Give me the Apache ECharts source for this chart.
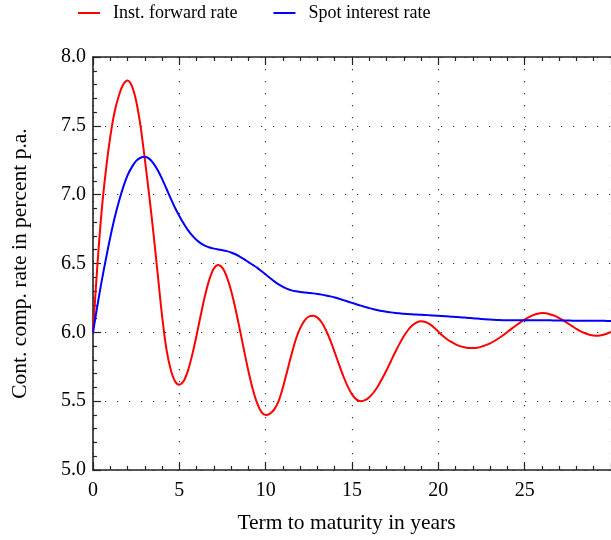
<!DOCTYPE html>
<html>
<head>
<meta charset="utf-8">
<script src="https://cdn.jsdelivr.net/npm/echarts@6/dist/echarts.min.js"></script>
<style>html,body{margin:0;padding:0;background:#fff}#c{width:611px;height:540px}</style>
</head>
<body>
<div id="c"></div>
<script>
const seriesNames = ['Inst. forward rate', 'Spot interest rate'];
const xTitle = 'Term to maturity in years';
const yTitle = 'Cont. comp. rate in percent p.a.';
const years = [0,0.25,0.5,0.75,1,1.25,1.5,1.75,2,2.25,2.5,2.75,3,3.25,3.5,3.75,4,4.25,4.5,4.75,
  5,5.25,5.5,5.75,6,6.25,6.5,6.75,7,7.25,7.5,7.75,8,8.25,8.5,8.75,9,9.25,9.5,9.75,
  10,10.25,10.5,10.75,11,11.25,11.5,11.75,12,12.25,12.5,12.75,13,13.25,13.5,13.75,14,14.25,14.5,14.75,
  15,15.25,15.5,15.75,16,16.25,16.5,16.75,17,17.25,17.5,17.75,18,18.25,18.5,18.75,19,19.25,19.5,19.75,
  20,20.25,20.5,20.75,21,21.25,21.5,21.75,22,22.25,22.5,22.75,23,23.25,23.5,23.75,24,24.25,24.5,24.75,
  25,25.25,25.5,25.75,26,26.25,26.5,26.75,27,27.25,27.5,27.75,28,28.25,28.5,28.75,29,29.25,29.5,29.75,30];
const forwardRate = [6.00,6.48,6.88,7.18,7.42,7.60,7.72,7.80,7.83,7.79,7.68,7.50,7.26,7.00,6.72,6.42,6.12,5.88,5.73,5.645,
  5.62,5.646,5.722,5.838,5.979,6.131,6.273,6.388,6.464,6.49,6.468,6.403,6.302,6.171,6.022,5.868,5.719,5.588,5.487,5.422,
  5.40,5.41,5.44,5.50,5.60,5.72,5.84,5.95,6.03,6.085,6.115,6.12,6.107,6.071,6.013,5.939,5.854,5.766,5.681,5.607,
  5.549,5.513,5.50,5.507,5.529,5.563,5.609,5.664,5.725,5.79,5.855,5.916,5.971,6.017,6.051,6.073,6.08,6.075,6.06,6.035,
  6.005,5.975,5.95,5.93,5.913,5.90,5.892,5.887,5.886,5.888,5.896,5.907,5.92,5.937,5.957,5.979,6.003,6.027,6.05,6.072,
  6.092,6.11,6.125,6.135,6.14,6.138,6.13,6.119,6.103,6.085,6.065,6.045,6.025,6.007,5.993,5.983,5.977,5.975,5.98,5.99,6.003];
const spotRate = [6.00,6.19,6.37,6.535,6.69,6.83,6.95,7.055,7.14,7.20,7.245,7.268,7.275,7.262,7.228,7.178,7.115,7.045,6.973,6.905,
  6.845,6.79,6.742,6.702,6.671,6.646,6.628,6.616,6.608,6.602,6.597,6.59,6.58,6.567,6.55,6.532,6.51,6.49,6.47,6.445,
  6.42,6.395,6.37,6.348,6.33,6.316,6.305,6.298,6.293,6.289,6.286,6.283,6.279,6.274,6.268,6.261,6.253,6.244,6.234,6.224,
  6.214,6.204,6.194,6.185,6.176,6.168,6.161,6.155,6.15,6.145,6.141,6.138,6.135,6.133,6.131,6.129,6.128,6.126,6.124,6.122,
  6.12,6.118,6.116,6.114,6.112,6.11,6.107,6.105,6.102,6.10,6.097,6.095,6.093,6.091,6.089,6.088,6.088,6.087,6.087,6.087,
  6.087,6.087,6.087,6.087,6.087,6.087,6.087,6.086,6.086,6.086,6.086,6.085,6.085,6.085,6.085,6.084,6.084,6.084,6.084,6.083,6.083];

const FONT = 'Liberation Serif';
const chart = echarts.init(document.getElementById('c'), null, {renderer: 'canvas'});
const tickStyle = {color: '#222', width: 1.2};
chart.setOption({
  animation: false,
  backgroundColor: '#fff',
  textStyle: {fontFamily: FONT},
  legend: {
    top: -1, left: 73,
    itemWidth: 22, itemHeight: 2, itemGap: 36,
    icon: 'rect',
    textStyle: {fontFamily: FONT, fontSize: 18, color: '#000', padding: [0,0,0,8]},
    data: seriesNames
  },
  grid: {left: 93, top: 57, right: -2, bottom: 70, containLabel: false},
  xAxis: [{
    type: 'value', min: 0, max: 30, interval: 5, position: 'bottom',
    name: xTitle, nameLocation: 'middle', nameGap: 42,
    nameTextStyle: {fontFamily: FONT, fontSize: 21.5, color: '#000', padding: [0, 11, 0, 0]},
    axisLine: {show: true, onZero: false, lineStyle: {color: '#222', width: 1.6}},
    axisTick: {show: true, inside: true, length: 8, lineStyle: tickStyle},
    minorTick: {show: true, splitNumber: 5, length: 4, lineStyle: tickStyle},
    axisLabel: {fontFamily: FONT, fontSize: 20, color: '#000', margin: 11, showMaxLabel: false},
    splitLine: {show: true, lineStyle: {color: '#333', width: 1.2, type: [1.2, 10.8]}}
  }, {
    type: 'value', min: 0, max: 30, interval: 5, position: 'top',
    axisLine: {show: true, onZero: false, lineStyle: {color: '#222', width: 1.6}},
    axisTick: {show: true, inside: true, length: 8, lineStyle: tickStyle},
    minorTick: {show: true, splitNumber: 5, length: 4, lineStyle: tickStyle},
    axisLabel: {show: false},
    splitLine: {show: false}
  }],
  yAxis: {
    type: 'value', min: 5, max: 8, interval: 0.5,
    name: yTitle, nameLocation: 'middle', nameGap: 62, nameRotate: 90,
    nameTextStyle: {fontFamily: FONT, fontSize: 21.5, color: '#000'},
    axisLine: {show: true, onZero: false, lineStyle: {color: '#222', width: 1.6}},
    axisTick: {show: true, inside: true, length: 8, lineStyle: tickStyle},
    minorTick: {show: true, splitNumber: 5, length: 4, lineStyle: tickStyle},
    axisLabel: {fontFamily: FONT, fontSize: 20, color: '#000', margin: 7, formatter: v => v.toFixed(1)},
    splitLine: {show: true, lineStyle: {color: '#333', width: 1.2, type: [1.2, 10.8]}}
  },
  series: [{
    name: seriesNames[0], type: 'line', xAxisIndex: 0, smooth: 0.3, symbol: 'none',
    lineStyle: {color: '#ff0000', width: 2}, itemStyle: {color: '#ff0000'},
    data: years.map((t, i) => [t, forwardRate[i]])
  }, {
    name: seriesNames[1], type: 'line', xAxisIndex: 0, smooth: 0.3, symbol: 'none',
    lineStyle: {color: '#0000ff', width: 2}, itemStyle: {color: '#0000ff'},
    data: years.map((t, i) => [t, spotRate[i]])
  }]
});
</script>
</body>
</html>
